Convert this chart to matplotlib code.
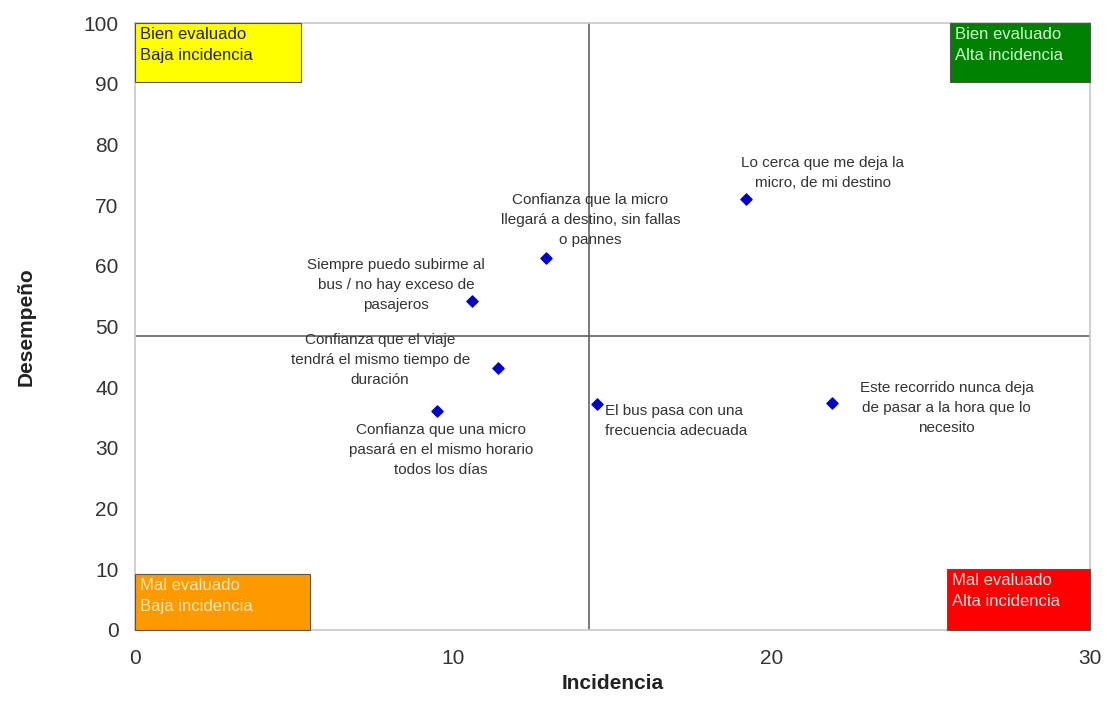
import matplotlib.pyplot as plt
from matplotlib.patches import Rectangle

plt.rcParams['font.family'] = ['Liberation Sans', 'DejaVu Sans']

# attribute scores: incidence (x) vs performance (y)
labels = [
    'Lo cerca que me deja la\nmicro, de mi destino',
    'Confianza que la micro\nllegará a destino, sin fallas\no pannes',
    'Siempre puedo subirme al\nbus / no hay exceso de\npasajeros',
    'Confianza que el viaje\ntendrá el mismo tiempo de\nduración',
    'Confianza que una micro\npasará en el mismo horario\ntodos los días',
    'El bus pasa con una\nfrecuencia adecuada',
    'Este recorrido nunca deja\nde pasar a la hora que lo\nnecesito',
]
incidencia = [19.2, 12.9, 10.6, 11.4, 9.5, 14.5, 21.9]
desempeno = [71.0, 61.3, 54.2, 43.2, 36.0, 37.2, 37.3]

# where each label sits (x, y, horizontal alignment)
label_pos = [
    (21.6, 75.3, 'center'),
    (14.3, 67.6, 'center'),
    (8.2, 56.8, 'center'),
    (7.7, 44.4, 'center'),
    (9.6, 29.6, 'center'),
    (14.75, 34.4, 'left'),
    (25.5, 36.5, 'center'),
]

cut_x = 14.25
cut_y = 48.4

quadrants = [
    # x, y, w, h, face, text colour, text
    (0, 90.3, 5.2, 9.7, '#ffff00', '#222222', 'Bien evaluado\nBaja incidencia'),
    (25.6, 90.3, 4.4, 9.7, '#008000', '#ccffcc', 'Bien evaluado\nAlta incidencia'),
    (0, 0, 5.5, 9.2, '#ff9900', '#ffe8b0', 'Mal evaluado\nBaja incidencia'),
    (25.5, 0, 4.5, 10.0, '#ff0000', '#ffe0e0', 'Mal evaluado\nAlta incidencia'),
]

fig = plt.figure(figsize=(11.07, 7.19), dpi=100)
ax = fig.add_axes([0.122, 0.124, 0.8627, 0.844])

ax.axvline(cut_x, color='#555555', lw=1.1, zorder=1)
ax.axhline(cut_y, color='#555555', lw=1.1, zorder=1)

for x, y, w, h, face, tc, txt in quadrants:
    ax.add_patch(Rectangle((x, y), w, h, facecolor=face, edgecolor='#555555',
                           lw=0.8, zorder=3, clip_on=False))
    ax.text(x + 0.15, y + h - 0.7, txt, color=tc, fontsize=12, va='top',
            ha='left', linespacing=1.45, zorder=4)

ax.scatter(incidencia, desempeno, marker='D', s=32, color='#0000cc', zorder=5)

for txt, (tx, ty, ha) in zip(labels, label_pos):
    ax.text(tx, ty, txt, ha=ha, va='center', fontsize=11, color='#333333',
            linespacing=1.55, zorder=6)

ax.set_xlim(0, 30)
ax.set_ylim(0, 100)
ax.set_xticks([0, 10, 20, 30])
ax.set_yticks(range(0, 101, 10))
ax.tick_params(length=0, labelsize=15, colors='#333333', pad=12)
ax.tick_params(axis='x', pad=14)
for s in ax.spines.values():
    s.set_color('#c8c8c8')
    s.set_linewidth(1.2)

ax.set_xlabel('Incidencia', fontsize=15, fontweight='bold', color='#222222',
              labelpad=4)
ax.set_ylabel('Desempeño', fontsize=15, fontweight='bold', color='#222222',
              labelpad=34)

fig.savefig('out.png', dpi=100)
